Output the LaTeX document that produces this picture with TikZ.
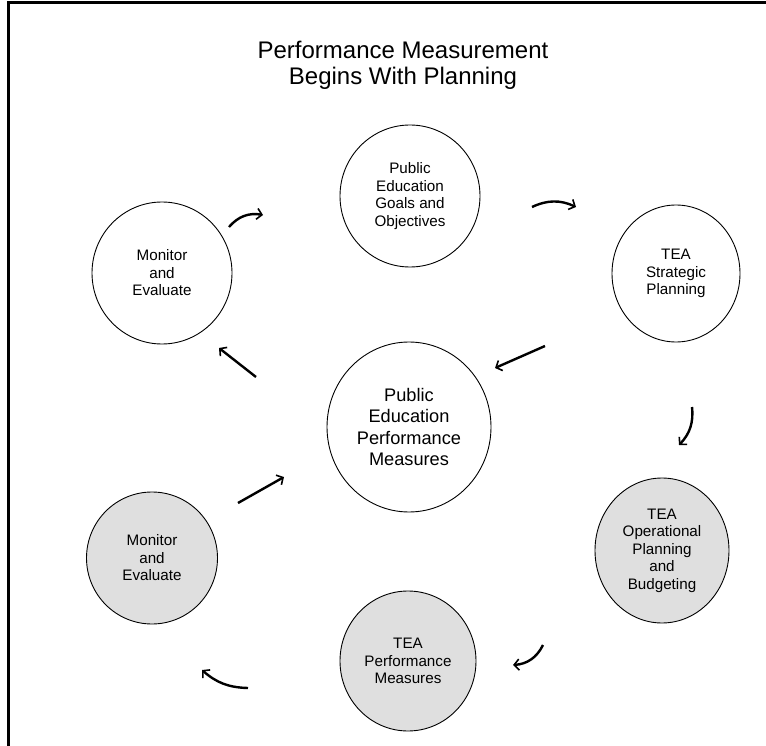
\documentclass[tikz,border=0pt]{standalone}
\usepackage{fontspec}
\setmainfont{Liberation Sans}
\usetikzlibrary{shapes.geometric, arrows.meta}
\definecolor{stagegray}{RGB}{223,223,223}
\tikzset{
  stage/.style  = {shape=ellipse, %circle,
                   draw, line width=0.9pt, align=center, inner sep=0pt,
                   font=\fontsize{15.2}{17.5}\selectfont},
  shaded/.style = {stage, fill=stagegray},
  hub/.style    = {stage, font=\fontsize{18.2}{21.3}\selectfont},
  wh/.style 2 args = {minimum width=#1pt, minimum height=#2pt},
  flow/.style   = {draw, line width=2.4pt,
                   -{Straight Barb[length=5pt, width=11pt, line width=1.6pt]}}
}
\begin{document}
\begin{tikzpicture}
  [
  x=1pt, y=-1pt,
  %every node/.style = {font = \footnotesize},
  ]
  \useasboundingbox (0,0) rectangle (766,746);
  \draw[line width=3pt] (8,746) -- (8,3) -- (766,3);

  \node[font=\fontsize{24}{26}\selectfont, align=center] (title) at (403,65)
    {Performance Measurement\\Begins With Planning};

  \node[stage, wh={140}{142}] (monitorA) at (162,273) {Monitor\\and\\Evaluate};
  \node[stage, wh={140}{142}] (goals) at (410,196) {Public\\Education\\Goals and\\Objectives};
  \node[stage, wh={128}{137}] (strategic) at (676,273.5) {TEA\\Strategic\\Planning};
  \node[hub, wh={164}{170}] (measures) at (409,427) {Public\\Education\\Performance\\Measures};
  \node[shaded, wh={134}{145}] (operational) at (662,550.5) {TEA\\Operational\\Planning\\and\\Budgeting};
  \node[shaded, wh={136}{140}] (teameasures) at (408,661) {TEA\\Performance\\Measures};
  \node[shaded, wh={131}{132}] (monitorB) at (152,558) {Monitor\\and\\Evaluate};

  % arrow ends
  \coordinate (a1s) at (229,227);  \coordinate (a1e) at (263,215);
  \coordinate (a2s) at (532,207);  \coordinate (a2e) at (576,207);
  \coordinate (a3s) at (545,346);  \coordinate (a3e) at (495,368);
  \coordinate (a4s) at (692,407);  \coordinate (a4e) at (679,445);
  \coordinate (a5s) at (543,645);  \coordinate (a5e) at (513,665);
  \coordinate (a6s) at (248,688);  \coordinate (a6e) at (202,670);
  \coordinate (a7s) at (238,503);  \coordinate (a7e) at (284,477);
  \coordinate (a8s) at (256,377);  \coordinate (a8e) at (219,348);

  \draw[flow] (a1s) to[bend left=30] (a1e);
  \draw[flow] (a2s) to[bend left=25] (a2e);
  \draw[flow] (a3s) -- (a3e);
  \draw[flow] (a4s) to[bend left=25] (a4e);
  \draw[flow] (a5s) to[bend left=30] (a5e);
  \draw[flow] (a6s) to[bend left=20] (a6e);
  \draw[flow] (a7s) -- (a7e);
  \draw[flow] (a8s) -- (a8e);
\end{tikzpicture}
\end{document}
